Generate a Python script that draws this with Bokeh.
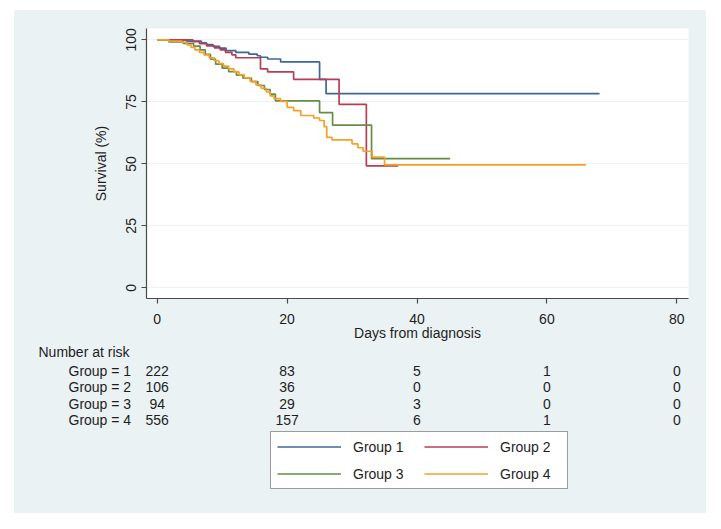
from bokeh.plotting import figure
from bokeh.layouts import column
from bokeh.models import Range1d, Legend, LegendItem, FixedTicker, ColumnDataSource
from bokeh.core.properties import value
from bokeh.embed import file_html
from bokeh.resources import INLINE

# ---------------- data ----------------
groups = ["Group 1", "Group 2", "Group 3", "Group 4"]

g1_t = [0, 4.5, 6.8, 7.6, 8.6, 9.6, 10.6, 12.1, 14.1, 15.4, 15.9, 17.0, 19.0, 25.0, 26.0, 68.1]
g1_s = [100, 99.5, 98.8, 98.1, 97.4, 96.7, 95.7, 95.0, 94.3, 93.6, 93.0, 92.3, 91.1, 84.1, 78.3, 78.3]

g2_t = [0, 5.5, 6.5, 7.6, 8.8, 9.7, 10.5, 11.5, 12.1, 15.9, 17.0, 21.0, 28.0, 32.2, 37.1]
g2_s = [100, 99.3, 98.5, 97.6, 96.8, 96.0, 95.0, 94.0, 92.8, 88.3, 87.1, 84.1, 74.0, 49.2, 49.2]

g3_t = [0, 1.8, 4.0, 5.6, 6.6, 7.4, 8.2, 9.0, 10.0, 11.0, 12.2, 13.2, 14.5, 15.5, 16.5, 17.4,
        18.2, 25.0, 27.0, 33.0, 45.1]
g3_s = [100, 99.2, 98.6, 97.5, 96.0, 94.2, 92.2, 90.2, 88.6, 87.2, 85.8, 84.6, 83.2, 81.6, 80.0, 78.1,
        75.4, 70.7, 65.6, 52.1, 52.1]

g4_t = [0, 1.8, 3.8, 4.6, 5.2, 5.8, 6.5, 7.2, 8.0, 8.8, 9.5, 10.2, 11.0, 11.8, 12.6, 13.4, 14.3,
        15.2, 16.0, 16.8, 17.4, 18.0, 19.0, 20.0, 21.0, 22.1, 24.1, 25.0, 25.7, 26.1, 26.9, 30.0,
        30.9, 31.7, 33.1, 35.0, 66.0]
g4_s = [100, 99.5, 99.0, 98.0, 97.0, 96.0, 95.0, 94.0, 92.8, 91.6, 90.4, 89.4, 88.3, 87.1, 85.9, 84.7, 83.3,
        81.9, 80.5, 79.0, 77.4, 76.3, 75.2, 72.8, 71.5, 69.5, 68.5, 67.5, 65.0, 60.7, 59.7, 58.1,
        56.5, 55.1, 52.7, 49.6, 49.6]

risk_times = [0, 20, 40, 60, 80]
risk_g1 = [222, 83, 5, 1, 0]
risk_g2 = [106, 36, 0, 0, 0]
risk_g3 = [94, 29, 3, 0, 0]
risk_g4 = [556, 157, 6, 1, 0]
risk_title = "Number at risk"
risk_labels = ["Group = 1", "Group = 2", "Group = 3", "Group = 4"]

x_ticks = [0, 20, 40, 60, 80]
y_ticks = [0, 25, 50, 75, 100]

# ---------------- layout / style ----------------
W = 692
OX, OY = 14, 10             # page position of the block
TOP_H = 335                 # top figure: page y 10 .. 345
BOT_Y0, BOT_Y1 = OY + TOP_H, 513
ML, MR, MT = 132, 18, 18
FH = 270
MB = TOP_H - MT - FH
X0, X1 = -1.65, 81.8
Y0, Y1 = -4.3, 104.6
FW = W - ML - MR

FONT = "Liberation Sans"
FS = "14px"
TXT = "#1e1e1e"
BG = "#eaf2f3"
AX = "#4a4a4a"
colors = ["#3e6797", "#b63e54", "#668c46", "#f4a02a"]


def dx(px):
    return X0 + (px - OX - ML) / FW * (X1 - X0)


p = figure(width=W, height=TOP_H, x_range=Range1d(X0, X1), y_range=Range1d(Y0, Y1),
           output_backend="svg", toolbar_location=None, frame_align=False,
           min_border_left=ML, min_border_right=MR, min_border_top=MT, min_border_bottom=MB,
           background_fill_color="white", border_fill_color=BG, outline_line_color=None)

p.xaxis.ticker = FixedTicker(ticks=x_ticks)
p.yaxis.ticker = FixedTicker(ticks=y_ticks)
p.xaxis.axis_label = "Days from diagnosis"
p.yaxis.axis_label = "Survival (%)"
p.yaxis.major_label_orientation = "vertical"
for ax in (p.xaxis, p.yaxis):
    ax.axis_line_color = AX
    ax.axis_line_width = 1.2
    ax.major_tick_line_color = AX
    ax.major_tick_line_width = 1.2
    ax.minor_tick_line_color = None
    ax.major_tick_out = 5
    ax.major_tick_in = 0
    ax.major_label_text_font = FONT
    ax.major_label_text_font_size = FS
    ax.major_label_text_color = TXT
    ax.axis_label_text_font = FONT
    ax.axis_label_text_font_size = FS
    ax.axis_label_text_font_style = "normal"
    ax.axis_label_text_color = TXT
p.xaxis.major_label_standoff = 10
p.xaxis.axis_label_standoff = -2
p.yaxis.major_label_standoff = 5
p.yaxis.axis_label_standoff = 15
p.xgrid.visible = False
p.ygrid.grid_line_color = BG
p.ygrid.grid_line_width = 1

series = [(g1_t, g1_s), (g2_t, g2_s), (g3_t, g3_s), (g4_t, g4_s)]
for (t, s), c in zip(series, colors):
    p.step(t, s, mode="after", line_color=c, line_width=1.7)

# ---------------- bottom block: number at risk + legend ----------------
BH = BOT_Y1 - BOT_Y0
p2 = figure(width=W, height=BH, x_range=Range1d(dx(OX), dx(OX + W)),
            y_range=Range1d(BOT_Y1, BOT_Y0),  # page-y units, downward
            x_axis_type=None, y_axis_type=None, output_backend="svg", toolbar_location=None,
            frame_align=False,
            min_border_left=0, min_border_right=0, min_border_top=0, min_border_bottom=0,
            background_fill_color=BG, border_fill_color=BG, outline_line_color=None)

row_py = [370, 386.5, 403, 419.5]
txt = dict(text_font=value(FONT), text_font_size=value(FS), text_color=TXT, text_baseline="middle")

p2.text(x=[dx(38)], y=[351], text=[risk_title], text_align="left", **txt)
p2.text(x=[dx(68)] * 4, y=row_py, text=risk_labels, text_align="left", **txt)

nx, ny, nt = [], [], []
for k, vals in enumerate([risk_g1, risk_g2, risk_g3, risk_g4]):
    for t, v in zip(risk_times, vals):
        nx.append(t)
        ny.append(row_py[k])
        nt.append(str(v))
p2.text(x="x", y="y", text="t", source=ColumnDataSource(dict(x=nx, y=ny, t=nt)),
        text_align="center", **txt)

# legend entries (the curves redrawn here lie outside this block's visible range)
leg_r = []
for (t, s), c in zip(series, colors):
    leg_r.append(p2.step(t, s, mode="after", line_color=c, line_width=1.7))

order = [0, 2, 1, 3]   # column-major fill -> rows: G1 G2 / G3 G4
legend = Legend(items=[LegendItem(label=groups[i], renderers=[leg_r[i]]) for i in order],
                ncols=2, location=(270 - OX, BOT_Y1 - 489),
                glyph_width=64, glyph_height=17, label_height=17, label_width=61,
                label_standoff=12, padding=6, spacing=10, margin=0,
                label_text_font=FONT, label_text_font_size=FS, label_text_color=TXT,
                border_line_color="#3a3a3a", border_line_width=1,
                background_fill_color="white", background_fill_alpha=1.0)
p2.add_layout(legend, "center")

layout = column(p, p2, spacing=0, margin=(OY, 0, 0, OX), styles={"background-color": BG})
open("out.html", "w").write(file_html(layout, INLINE))
